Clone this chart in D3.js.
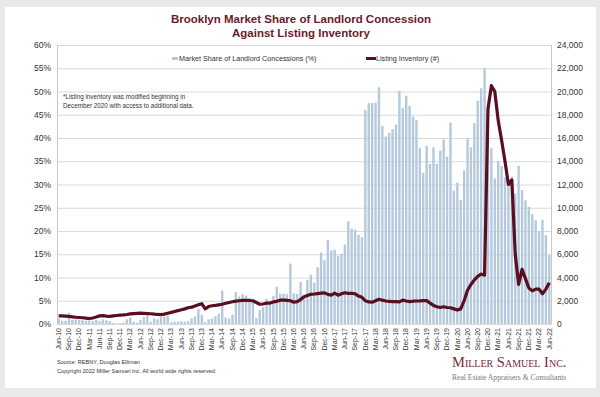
<!DOCTYPE html>
<html>
<head>
<meta charset="utf-8">
<script src="https://cdn.jsdelivr.net/npm/d3@7"></script>
<style>
  body { margin: 0; background: #e9e9e9; }
  svg { display: block; font-family: "Liberation Sans", Arial, sans-serif; }
</style>
</head>
<body>
<svg id="chart"></svg>
<script>
// Monthly data, Jun-10 .. Jun-22
var startMonth = new Date(2010, 5, 1);
var monthCount = 145;

// Market share of landlord concessions (%)
var concessions = [
  1.2, 0.7, 0.7, 2.4, 0.9, 1.0, 0.9,
  0.8, 0.7, 0.7, 0.6, 0.9, 0.6, 1.0, 0.8, 0.6, 0.2, 0.1, 0.2,
  0.3, 1.0, 1.4, 0.5, 0.3, 0.9, 1.5, 1.8, 0.5, 1.2, 1.0, 1.5,
  1.6, 1.8, 0.4, 0.5, 0.5, 0.6, 0.5, 0.6, 1.2, 1.6, 3.2, 2.0,
  0.4, 1.0, 1.2, 1.7, 2.2, 7.2, 1.4, 1.2, 2.0, 6.9, 5.9, 6.4,
  6.1, 5.6, 4.9, 1.3, 3.0, 3.6, 5.4, 4.5, 6.0, 8.0, 6.5, 6.5,
  6.4, 13.0, 6.6, 6.5, 9.0, 6.0, 9.5, 10.6, 8.9, 12.2, 15.4, 13.7,
  18.1, 15.8, 16.0, 14.7, 15.1, 17.1, 22.1, 20.5, 20.3, 19.2, 18.7, 46.0,
  47.5, 47.5, 47.6, 50.9, 42.6, 40.3, 41.1, 41.9, 42.9, 50.1, 46.4, 49.1,
  46.9, 44.6, 43.9, 37.9, 32.5, 38.3, 34.4, 38.0, 34.4, 37.3, 39.7, 36.0,
  43.3, 28.7, 30.4, 26.7, 33.0, 39.9, 38.0, 43.2, 48.0, 50.7, 55.0, 40.0,
  37.8, 31.3, 35.0, 34.0, 31.5, 31.0, 31.7, 28.1, 34.0, 28.8, 26.6, 25.2,
  23.6, 22.3, 20.0, 22.4, 19.1, 14.8
];

// Listing inventory (#)
var inventory = [
  700, 700, 680, 650, 620, 580, 560,
  540, 500, 470, 520, 600, 700, 720, 680, 650, 700, 730, 760,
  780, 820, 870, 900, 920, 930, 920, 900, 880, 850, 820, 800,
  850, 930, 1000, 1080, 1150, 1220, 1300, 1400, 1450, 1550, 1650, 1750,
  1300, 1500, 1570, 1600, 1650, 1700, 1780, 1850, 1910, 1970, 2000, 2030,
  2030, 2020, 2000, 1850, 1700, 1720, 1800, 1800, 1900, 1950, 2050, 2050,
  2030, 2000, 1880, 1920, 2100, 2350, 2450, 2550, 2580, 2620, 2650, 2680,
  2550, 2480, 2650, 2480, 2600, 2690, 2640, 2640, 2600, 2400, 2300, 2000,
  1900, 1880, 2000, 2130, 2050, 1980, 1950, 1920, 1920, 1900, 2050, 1980,
  1920, 1960, 1980, 1990, 2010, 2010, 1800, 1600, 1480, 1420, 1480, 1420,
  1400, 1300, 1200, 1300, 2000, 2900, 3400, 3800, 4100, 4300, 4200, 18500,
  20500, 20000, 17500, 15800, 14000, 12000, 12400, 6000, 3400, 4700, 3900, 3100,
  2850, 3000, 3000, 2600, 3000, 3550
];

var leftTicks = [0, 5, 10, 15, 20, 25, 30, 35, 40, 45, 50, 55, 60];
var rightTicks = [0, 2000, 4000, 6000, 8000, 10000, 12000, 14000, 16000, 18000, 20000, 22000, 24000];

var titleLines = ["Brooklyn Market Share of Landlord Concession", "Against Listing Inventory"];
var legendLabels = ["Market Share of Landlord Concessions (%)", "Listing Inventory (#)"];
var noteLines = ["*Listing inventory was modified beginning in", "December 2020 with access to additional data."];
var sourceLines = ["Source: REBNY, Douglas Elliman", "Copyright 2022 Miller Samuel Inc.  All world wide rights reserved."];

var width = 600, height = 397;
var barColor = "#b5c9dd", lineColor = "#5a0e1f", titleColor = "#6b1b2c";

var months = d3.timeMonth.range(startMonth, d3.timeMonth.offset(startMonth, monthCount));
var fmt = d3.timeFormat("%b-%y");
var rows = months.map(function (m, i) {
    return { label: fmt(m), pct: concessions[i], inv: inventory[i] };
});

var svg = d3.select("#chart").attr("width", width).attr("height", height);

// white card
svg.append("rect").attr("x", 5).attr("y", 7).attr("width", 591).attr("height", 381)
    .attr("fill", "#fff");

var plot = { left: 57, right: 551, top: 45, bottom: 324 };

var x = d3.scaleBand()
    .domain(rows.map(function (d) { return d.label; }))
    .range([plot.left, plot.right])
    .paddingInner(0.3)
    .paddingOuter(0.15);

var yL = d3.scaleLinear().domain([0, 60]).range([plot.bottom, plot.top]);
var yR = d3.scaleLinear().domain([0, 24000]).range([plot.bottom, plot.top]);

// gridlines
svg.append("g").selectAll("line")
    .data(leftTicks)
    .enter().append("line")
    .attr("x1", plot.left).attr("x2", plot.right)
    .attr("y1", function (d) { return yL(d) + 0.5; })
    .attr("y2", function (d) { return yL(d) + 0.5; })
    .attr("stroke", "#d9d9d9").attr("stroke-width", 1);

// axis side lines
[plot.left, plot.right].forEach(function (px) {
    svg.append("line").attr("x1", px + 0.5).attr("x2", px + 0.5)
        .attr("y1", plot.top).attr("y2", plot.bottom + 0.5)
        .attr("stroke", "#c8c8c8");
});

// left axis
var axisL = d3.axisLeft(yL).tickValues(leftTicks).tickSize(0).tickPadding(6)
    .tickFormat(function (d) { return d + "%"; });
svg.append("g").attr("transform", "translate(" + plot.left + ",0)").call(axisL)
    .call(function (g) { g.select(".domain").remove(); })
    .selectAll("text").attr("font-size", 8.5).attr("fill", "#333")
    .attr("font-family", "Liberation Sans, Arial, sans-serif");

// right axis
var axisR = d3.axisRight(yR).tickValues(rightTicks).tickSize(0).tickPadding(6)
    .tickFormat(d3.format(","));
svg.append("g").attr("transform", "translate(" + plot.right + ",0)").call(axisR)
    .call(function (g) { g.select(".domain").remove(); })
    .selectAll("text").attr("font-size", 8.5).attr("fill", "#333")
    .attr("font-family", "Liberation Sans, Arial, sans-serif");

// bars
svg.append("g").selectAll("rect")
    .data(rows)
    .enter().append("rect")
    .attr("x", function (d) { return x(d.label); })
    .attr("width", x.bandwidth())
    .attr("y", function (d) { return yL(d.pct); })
    .attr("height", function (d) { return plot.bottom - yL(d.pct); })
    .attr("fill", barColor);

// inventory line
var line = d3.line()
    .x(function (d) { return x(d.label) + x.bandwidth() / 2; })
    .y(function (d) { return yR(d.inv); });
svg.append("path").datum(rows)
    .attr("d", line)
    .attr("fill", "none")
    .attr("stroke", lineColor)
    .attr("stroke-width", 3.2)
    .attr("stroke-linejoin", "round");

// x labels, every 3rd month
var axisX = d3.axisBottom(x)
    .tickValues(rows.filter(function (d, i) { return i % 3 === 0; }).map(function (d) { return d.label; }))
    .tickSize(0);
svg.append("g").attr("transform", "translate(0," + plot.bottom + ")").call(axisX)
    .call(function (g) { g.select(".domain").remove(); })
    .selectAll("text")
    .attr("font-size", 7).attr("fill", "#333")
    .attr("font-family", "Liberation Sans, Arial, sans-serif")
    .attr("transform", "rotate(-90)")
    .attr("text-anchor", "end")
    .attr("x", -4).attr("y", 0).attr("dy", "0.32em");

// title
svg.append("g").selectAll("text")
    .data(titleLines)
    .enter().append("text")
    .attr("x", 301).attr("y", function (d, i) { return 23 + i * 14; })
    .attr("text-anchor", "middle")
    .attr("font-size", 11.5).attr("font-weight", "bold")
    .attr("fill", titleColor)
    .text(function (d) { return d; });

// legend
var lg = svg.append("g").attr("font-size", 7.2).attr("fill", "#333");
lg.append("rect").attr("x", 172).attr("y", 57).attr("width", 6).attr("height", 3).attr("fill", barColor);
lg.append("text").attr("x", 179).attr("y", 61).text(legendLabels[0]);
lg.append("line").attr("x1", 366).attr("x2", 376).attr("y1", 58.5).attr("y2", 58.5)
    .attr("stroke", lineColor).attr("stroke-width", 3);
lg.append("text").attr("x", 376).attr("y", 61).text(legendLabels[1]);

// note
svg.append("g").selectAll("text")
    .data(noteLines)
    .enter().append("text")
    .attr("x", 63).attr("y", function (d, i) { return 99 + i * 9; })
    .attr("font-size", 6.3).attr("fill", "#333")
    .text(function (d) { return d; });

// source
svg.append("g").selectAll("text")
    .data(sourceLines)
    .enter().append("text")
    .attr("x", 57).attr("y", function (d, i) { return 364 + i * 9; })
    .attr("font-size", 5.6).attr("fill", "#333")
    .text(function (d) { return d; });

// logo
svg.append("text").attr("x", 452).attr("y", 367)
    .attr("font-family", "Liberation Serif, Times New Roman, serif")
    .attr("font-size", 14.5).attr("font-variant", "small-caps")
    .attr("fill", "#7a2a37")
    .text("Miller Samuel Inc.");
svg.append("text").attr("x", 452).attr("y", 380)
    .attr("font-family", "Liberation Serif, Times New Roman, serif")
    .attr("font-size", 7.6).attr("fill", "#777")
    .text("Real Estate Appraisers & Consultants");
</script>
</body>
</html>
